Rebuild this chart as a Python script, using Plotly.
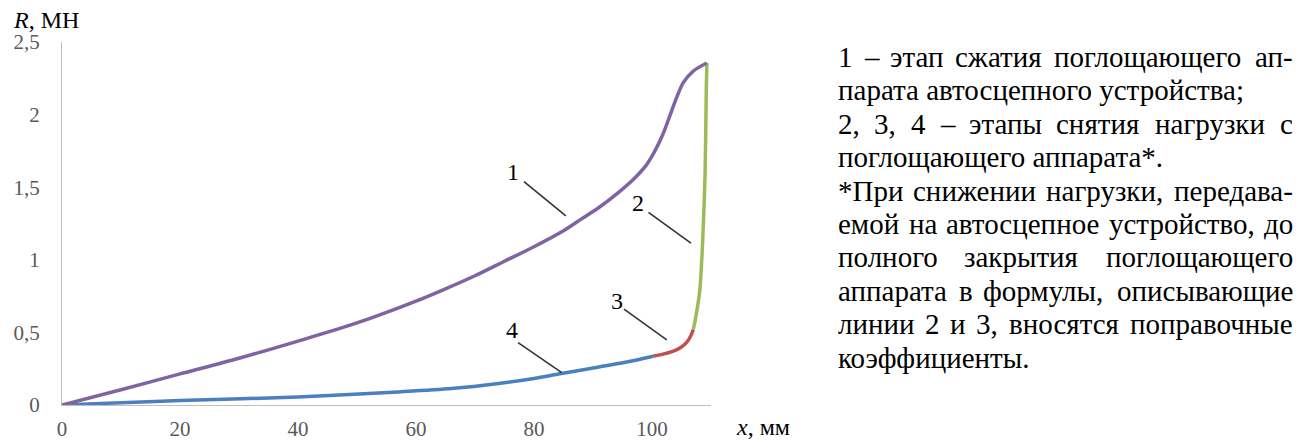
import plotly.graph_objects as go

# ---------------- data ----------------
# 1 - compression stage (purple)
x1 = [0, 10, 20, 30, 40, 50, 60, 65, 70, 75, 80, 85, 88, 91, 94.5, 97, 99, 100.5, 101.9, 103.1, 104.2, 105.3, 107, 109.3]
r1 = [0, 0.105, 0.214, 0.322, 0.44, 0.565, 0.715, 0.80, 0.89, 0.99, 1.09, 1.20, 1.28, 1.36, 1.47, 1.56, 1.65, 1.75, 1.87, 2.00, 2.12, 2.22, 2.30, 2.355]
# 2 - unloading (green)
x2 = [109.3, 109.2, 109.0, 108.6, 108.1, 107.4, 107.0]
r2 = [2.355, 2.17, 1.60, 1.14, 0.79, 0.60, 0.52]
# 3 - unloading (red)
x3 = [107.0, 106.5, 105.8, 104.8, 103.5, 102.0, 100.2]
r3 = [0.52, 0.47, 0.428, 0.395, 0.37, 0.352, 0.336]
# 4 - unloading (blue)
x4 = [100.2, 97.4, 94.6, 91.0, 84.4, 80, 74, 66, 57, 40, 20, 10, 0]
r4 = [0.336, 0.31, 0.287, 0.262, 0.215, 0.183, 0.148, 0.113, 0.09, 0.055, 0.031, 0.016, 0]

x_ticks = [0, 20, 40, 60, 80, 100]
x_ticktext = ["0", "20", "40", "60", "80", "100"]
y_ticks = [0, 0.5, 1, 1.5, 2, 2.5]
y_ticktext = ["0", "0,5", "1", "1,5", "2", "2,5"]

label_text = ["1", "2", "3", "4"]
label_x = [76.4, 97.6, 94.0, 76.2]
label_y = [1.607, 1.393, 0.717, 0.517]
ptr_x0 = [78.3, 99.4, 95.25, 77.3]
ptr_y0 = [1.538, 1.326, 0.66, 0.43]
ptr_x1 = [85.4, 106.6, 102.5, 84.7]
ptr_y1 = [1.303, 1.115, 0.448, 0.223]

note_lines = [
    ("1 – этап сжатия поглощающего ап-", True),
    ("парата автосцепного устройства;", False),
    ("2, 3, 4 – этапы снятия нагрузки с", True),
    ("поглощающего аппарата*.", False),
    ("*При снижении нагрузки, передава-", True),
    ("емой на автосцепное устройство, до", True),
    ("полного закрытия поглощающего", True),
    ("аппарата в формулы, описывающие", True),
    ("линии 2 и 3, вносятся поправочные", True),
    ("коэффициенты.", False),
]

# ---------------- layout geometry ----------------
W, H = 1306, 441
ML, MR, MT, MB = 62, 595, 42, 36
PW, PH = W - ML - MR, H - MT - MB


def px(xp):
    return (xp - ML) / PW


def py(yp):
    return (H - MB - yp) / PH


SERIF = "Liberation Serif"

fig = go.Figure()
for xs, ys, col in [(x4, r4, "#4A7FC0"), (x3, r3, "#C0504D"), (x2, r2, "#9BBB59"), (x1, r1, "#8064A2")]:
    fig.add_trace(go.Scatter(x=xs, y=ys, mode="lines",
                             line=dict(color=col, width=3.5, shape="spline", smoothing=0.8),
                             hoverinfo="skip", showlegend=False))

annotations = []
shapes = []
for t, lx, ly, a0, b0, a1, b1 in zip(label_text, label_x, label_y, ptr_x0, ptr_y0, ptr_x1, ptr_y1):
    annotations.append(dict(x=lx, y=ly, xref="x", yref="y", text=t, showarrow=False,
                            font=dict(family=SERIF, size=24, color="black"),
                            xanchor="center", yanchor="middle"))
    shapes.append(dict(type="line", xref="x", yref="y", x0=a0, y0=b0, x1=a1, y1=b1,
                       line=dict(color="#333333", width=1.6)))

# axis titles
annotations.append(dict(x=px(12), y=py(20), xref="paper", yref="paper", text="<i>R</i>, МН",
                        showarrow=False, font=dict(family=SERIF, size=24, color="black"),
                        xanchor="left", yanchor="middle", borderpad=0))
annotations.append(dict(x=px(735), y=py(427), xref="paper", yref="paper", text="<i>x</i>, мм",
                        showarrow=False, font=dict(family=SERIF, size=24, color="black"),
                        xanchor="left", yanchor="middle", borderpad=0))

# note text (justified by word placement, Times/Liberation Serif advance widths)
CW = {'а': 444, 'б': 509, 'в': 472, 'г': 410, 'д': 509, 'е': 444, 'ж': 691, 'з': 395, 'и': 535,
      'й': 535, 'к': 486, 'л': 499, 'м': 633, 'н': 535, 'о': 500, 'п': 535, 'р': 500, 'с': 444,
      'т': 437, 'у': 500, 'ф': 648, 'х': 500, 'ц': 535, 'ч': 503, 'ш': 770, 'щ': 770, 'ъ': 517,
      'ы': 672, 'ь': 456, 'э': 429, 'ю': 747, 'я': 486, 'П': 722, ' ': 250, ',': 250, '.': 250,
      ';': 278, '*': 500, '–': 500, '-': 333}
FS = 29
LEFT, RIGHT = 838, 1293
TOP_CENTER, STEP = 57, 33.4


def wlen(w):
    return sum(CW.get(c, 500) for c in w) * FS / 1000.0


note_font = dict(family=SERIF, size=FS, color="black")
for i, (line, just) in enumerate(note_lines):
    yc = TOP_CENTER + STEP * i
    if not just:
        annotations.append(dict(x=px(LEFT), y=py(yc), xref="paper", yref="paper", text=line,
                                showarrow=False, font=note_font, xanchor="left", yanchor="middle",
                                borderpad=0, borderwidth=0))
        continue
    words = line.split(" ")
    total = sum(wlen(w) for w in words)
    gap = (RIGHT - LEFT - total) / (len(words) - 1)
    pos = LEFT
    for j, w in enumerate(words):
        if j == len(words) - 1:
            annotations.append(dict(x=px(RIGHT), y=py(yc), xref="paper", yref="paper", text=w,
                                    showarrow=False, font=note_font, xanchor="right", yanchor="middle",
                                    borderpad=0, borderwidth=0))
        else:
            annotations.append(dict(x=px(pos), y=py(yc), xref="paper", yref="paper", text=w,
                                    showarrow=False, font=note_font, xanchor="left", yanchor="middle",
                                    borderpad=0, borderwidth=0))
        pos += wlen(w) + gap

axis_common = dict(showline=True, linecolor="#BFBFBF", linewidth=1.3, showgrid=False, zeroline=False,
                   ticks="", automargin=False,
                   tickfont=dict(family=SERIF, size=21, color="#595959"), fixedrange=True)

fig.update_layout(
    width=W, height=H,
    margin=dict(l=ML, r=MR, t=MT, b=MB, autoexpand=False),
    paper_bgcolor="white", plot_bgcolor="white",
    showlegend=False,
    xaxis=dict(range=[0, 110], tickvals=x_ticks, ticktext=x_ticktext, ticklabelstandoff=5, **axis_common),
    yaxis=dict(range=[0, 2.5], tickvals=y_ticks, ticktext=y_ticktext, ticklabelstandoff=17, **axis_common),
    annotations=annotations,
    shapes=shapes,
)

fig.write_html("out.html")
